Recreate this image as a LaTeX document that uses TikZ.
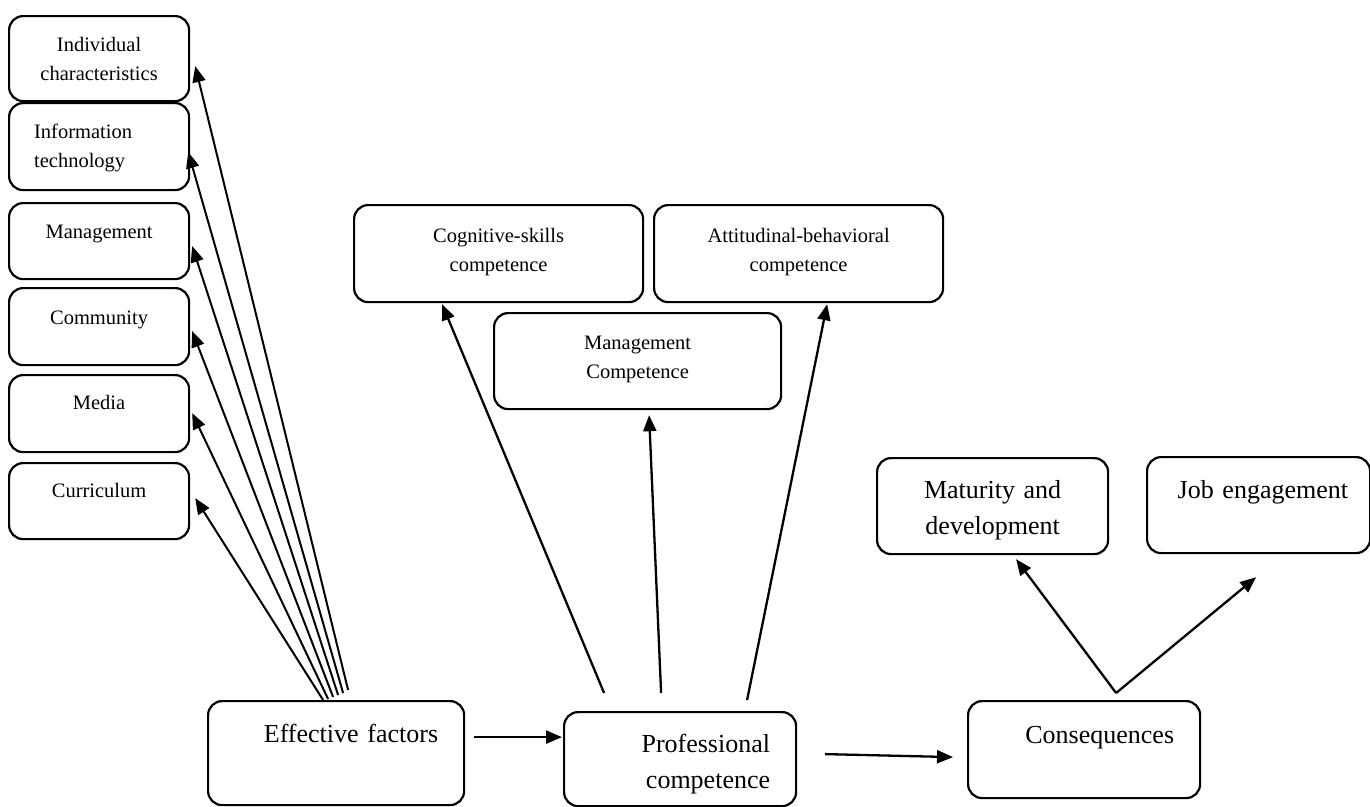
\documentclass[tikz,border=0pt]{standalone}
\usepackage{fontspec}
\setmainfont{Liberation Serif}
\usetikzlibrary{arrows.meta,calc}
\tikzset{
  box/.style={draw, line width=2.2pt, rounded corners=14pt, inner xsep=0pt, inner ysep=0pt, anchor=north west},
  sm/.style={font=\fontsize{20.5pt}{29.5pt}\selectfont},
  lg/.style={font=\fontsize{26pt}{36.5pt}\selectfont},
  arr/.style={line width=2.3pt, -{Triangle[length=16pt,width=13pt]}},
  thin arr/.style={line width=2pt, -{Triangle[length=16pt,width=13pt]}},
}
\begin{document}
\begin{tikzpicture}[x=1pt,y=-1pt]
\useasboundingbox (0,0) rectangle (1370,806);
% left factor boxes
\node[box, sm, minimum width=180pt, text width=170pt, align=center, text height=35pt, text depth=50pt] (ind) at (8,15) {Individual\\characteristics};
\node[box, sm, minimum width=180pt, text width=130pt, align=left, text height=35pt, text depth=52pt] (info) at (8,102) {Information\\technology};
\node[box, sm, minimum width=180pt, text width=170pt, align=center, text height=35pt, text depth=41pt] (mgmt) at (8,202) {Management};
\node[box, sm, minimum width=180pt, text width=170pt, align=center, text height=36pt, text depth=41pt] (comm) at (8,287) {Community};
\node[box, sm, minimum width=180pt, text width=170pt, align=center, text height=34pt, text depth=43pt] (media) at (8,374) {Media};
\node[box, sm, minimum width=180pt, text width=170pt, align=center, text height=34pt, text depth=42pt] (curr) at (8,462) {Curriculum};
% competence boxes
\node[box, sm, minimum width=289pt, text width=280pt, align=center, text height=37pt, text depth=60pt] (cog) at (353,204) {Cognitive-skills\\competence};
\node[box, sm, minimum width=289pt, text width=280pt, align=center, text height=37pt, text depth=60pt] (att) at (653,204) {Attitudinal-behavioral\\competence};
\node[box, sm, minimum width=287pt, text width=280pt, align=center, text height=36pt, text depth=60pt] (mcomp) at (493,312) {Management\\Competence};
% main chain
\node[box, lg, minimum width=256pt, text width=204pt, align=right, text height=41pt, text depth=63pt] (eff) at (207,700) {Effective factors};
\node[box, lg, minimum width=232pt, text width=180pt, align=right, text height=40pt, text depth=54pt] (prof) at (563,711) {Professional\\competence};
\node[box, lg, minimum width=232pt, text width=180pt, align=right, text height=42pt, text depth=55pt] (cons) at (967,700) {Consequences};
% consequences
\node[box, lg, minimum width=231pt, text width=220pt, align=center, text height=40pt, text depth=56pt] (mat) at (876,457) {Maturity and\\development};
\node[box, lg, minimum width=223pt, text width=179pt, align=right, text height=41pt, text depth=55pt] (job) at (1146,456) {Job engagement};
% fan of arrows from effective factors
\draw[thin arr] ($(eff.north)+(12,-10)$) -- ($(ind.east)+(5,7.5)$);
\draw[thin arr] ($(eff.north)+(7,-7)$) -- ($(info.east)+(-2,5.5)$);
\draw[thin arr] ($(eff.north)+(2,-5)$) -- ($(mgmt.east)+(2,5)$);
\draw[thin arr] ($(eff.north)+(-3,-3)$) -- ($(comm.east)+(2,4.5)$);
\draw[thin arr] ($(eff.north)+(-8,-1)$) -- ($(media.east)+(2,-0.5)$);
\draw[thin arr] ($(eff.north)+(-13,0)$) -- ($(curr.east)+(5,-3)$);
% professional competence arrows
\draw[arr] ($(prof.north)+(-76,-18)$) -- ($(cog.south)+(-56.5,1)$);
\draw[arr] ($(prof.north)+(-19,-18)$) -- ($(mcomp.south)+(11.5,5)$);
\draw[arr] ($(prof.north)+(67,-11)$) -- ($(att.south)+(28.5,1)$);
% chain arrows
\draw[arr] ($(eff.east)+(9,-16)$) -- ($(prof.west)+(-1,-22)$);
\draw[arr] ($(prof.east)+(28,-5)$) -- ($(cons.west)+(-14,7.5)$);
% consequences arrows
\draw[arr] ($(cons.north)+(32,-7)$) -- ($(mat.south)+(23.5,4)$);
\draw[arr] ($(cons.north)+(32,-7)$) -- ($(job.south)+(-2.5,23)$);
\end{tikzpicture}
\end{document}
